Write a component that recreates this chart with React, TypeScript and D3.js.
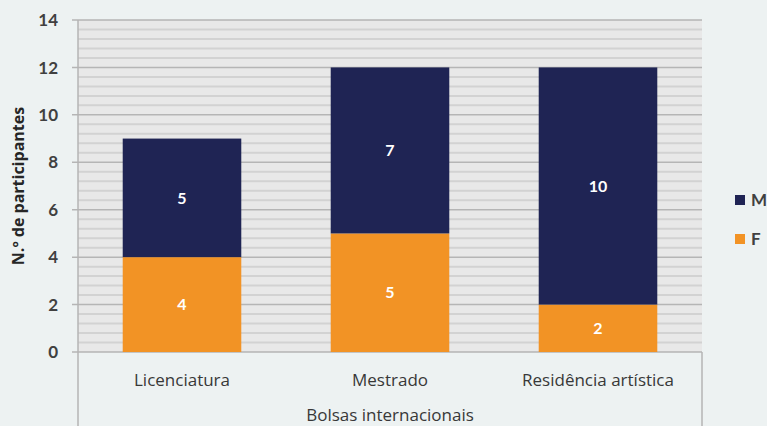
import React from 'react';
import * as d3 from 'd3';

const categories = ['Licenciatura', 'Mestrado', 'Residência artística'];
const valuesF = [4, 5, 2];
const valuesM = [5, 7, 10];
const yTicks = [0, 2, 4, 6, 8, 10, 12, 14];
const groupLabel = 'Bolsas internacionais';
const yTitle = 'N.º de participantes';
const seriesNames = ['M', 'F'];

const W = 767;
const H = 426;
const margin = { top: 20, right: 65, bottom: 74, left: 78 };
const colorM = '#1f2454';
const colorF = '#f29325';
const font = 'Lato, "Open Sans", sans-serif';
const catFont = '"Open Sans", Lato, sans-serif';

const App = () => {
  const innerW = W - margin.left - margin.right;
  const innerH = H - margin.top - margin.bottom;

  const x = d3.scaleBand().domain(categories).range([0, innerW]).paddingInner(0.43).paddingOuter(0.215);
  const y = d3.scaleLinear().domain([0, 14]).range([innerH, 0]);

  // minor grid every 0.4
  const minor = d3.range(0, 14.001, 0.4).filter(v => !yTicks.some(t => Math.abs(t - v) < 0.01));

  const stacked = categories.map((c, i) => ({ c, f: valuesF[i], m: valuesM[i] }));

  return (
    <svg width={W} height={H} style={{ position: 'absolute', left: 0, top: 0, background: '#edf2f2' }}>
      <g transform={`translate(${margin.left},${margin.top})`}>
        <rect x={0} y={0} width={innerW} height={innerH} fill="#e8e8e8" />
        {minor.map((v, i) => (
          <line key={'mn' + i} x1={0} x2={innerW} y1={y(v)} y2={y(v)} stroke="#d2d2d2" strokeWidth={2} />
        ))}
        {yTicks.map(t => (
          <line key={'mj' + t} x1={-6} x2={innerW} y1={y(t)} y2={y(t)} stroke="#b5b5b5" strokeWidth={1.5} />
        ))}
        {yTicks.map(t => (
          <text key={'yl' + t} x={-20} y={y(t)} dy="0.36em" textAnchor="end" fontFamily={font} fontSize={17}
            fontWeight={700} fill="#404040">{t}</text>
        ))}
        <line x1={0} x2={0} y1={0} y2={H - margin.top} stroke="#b5b5b5" strokeWidth={1.5} />
        <line x1={innerW} x2={innerW} y1={innerH} y2={H - margin.top} stroke="#b5b5b5" strokeWidth={1.5} />

        {stacked.map(d => (
          <g key={d.c}>
            <rect x={x(d.c)} width={x.bandwidth()} y={y(d.f)} height={y(0) - y(d.f)} fill={colorF} />
            <rect x={x(d.c)} width={x.bandwidth()} y={y(d.f + d.m)} height={y(d.f) - y(d.f + d.m)} fill={colorM} />
            <text x={(x(d.c) as number) + x.bandwidth() / 2} y={y(d.f / 2)} dy="0.36em" textAnchor="middle"
              fontFamily={font} fontSize={16} fontWeight={700} fill="#ffffff">{d.f}</text>
            <text x={(x(d.c) as number) + x.bandwidth() / 2} y={y(d.f + d.m / 2)} dy="0.36em" textAnchor="middle"
              fontFamily={font} fontSize={16} fontWeight={700} fill="#ffffff">{d.m}</text>
            <text x={(x(d.c) as number) + x.bandwidth() / 2} y={innerH + 28} dy="0.36em" textAnchor="middle"
              fontFamily={catFont} fontSize={17} fill="#383838">{d.c}</text>
          </g>
        ))}
        <text x={innerW / 2} y={innerH + 63} dy="0.36em" textAnchor="middle" fontFamily={catFont} fontSize={17}
          fill="#383838">{groupLabel}</text>
      </g>
      <text transform={`translate(18,${margin.top + innerH / 2}) rotate(-90)`} dy="0.36em" textAnchor="middle"
        fontFamily={catFont} fontSize={16} fontWeight={700} fill="#262626">{yTitle}</text>
      {seriesNames.map((s, i) => (
        <g key={s} transform={`translate(735,${200 + i * 39})`}>
          <rect x={0} y={-5} width={10} height={10} fill={s === 'M' ? colorM : colorF} />
          <text x={16} y={0} dy="0.36em" fontFamily={font} fontSize={17} fontWeight={700} fill="#404040">{s}</text>
        </g>
      ))}
    </svg>
  );
};

export default App;
